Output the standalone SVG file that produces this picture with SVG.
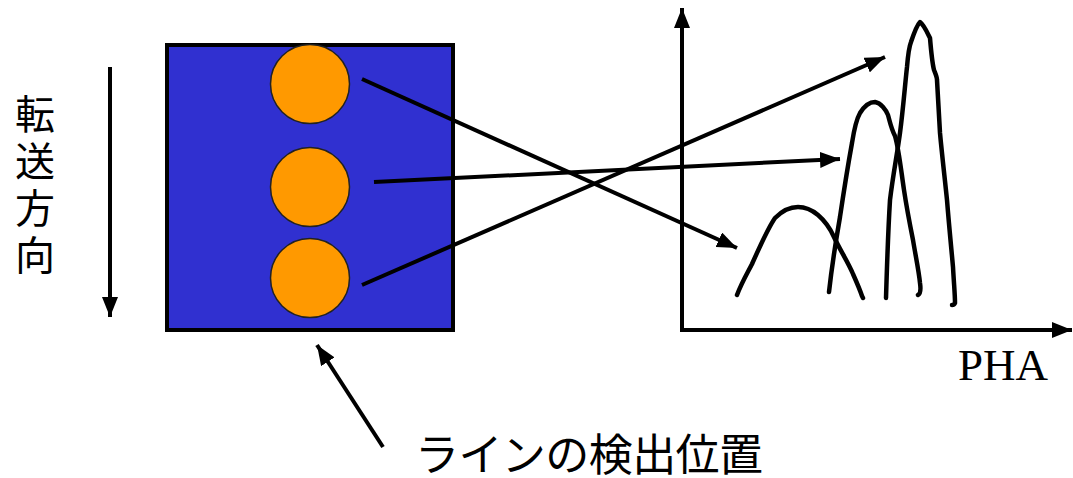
<svg xmlns="http://www.w3.org/2000/svg" width="1073" height="478" viewBox="0 0 1073 478">
<style>
.ln{stroke:#000;stroke-width:4;fill:none;stroke-linecap:butt}
.pen{stroke:#000;stroke-width:4.5;fill:none;stroke-linejoin:round;stroke-linecap:round}
.jp{font-family:"Noto Sans CJK JP","Noto Sans",sans-serif;fill:#000}
.circ{fill:#ff9900;stroke:#222;stroke-width:1.5}
</style>
<defs>
<marker id="ah" markerUnits="userSpaceOnUse" markerWidth="22" markerHeight="16" refX="20" refY="8" orient="auto">
<path d="M0,0 L20,8 L0,16 Z" fill="#000"/>
</marker>
</defs>
<rect width="1073" height="478" fill="#fff"/>
<g id="direction">
<line class="ln" x1="110" y1="67" x2="110" y2="317" marker-end="url(#ah)"/>
<text class="jp" font-size="40" x="35" y="94" writing-mode="tb" letter-spacing="7">転送方向</text>
</g>
<g id="detector">
<rect x="167" y="45" width="286" height="285" fill="#3030d0" stroke="#000" stroke-width="4"/>
<circle class="circ" cx="310" cy="84" r="39.5"/>
<circle class="circ" cx="310" cy="187" r="39.5"/>
<circle class="circ" cx="310" cy="278" r="39.5"/>
</g>
<g id="graph">
<line class="ln" x1="682" y1="330" x2="682" y2="8" marker-end="url(#ah)"/>
<line class="ln" x1="680" y1="330" x2="1072" y2="330" marker-end="url(#ah)"/>
<path class="pen" d="M737,295 C742,282 748,272 752,264 C760,246 768,228 775,218 C783,210 790,207 798,207 C806,207 812,210 818,215 C825,221 830,228 834,237 C840,250 848,262 853,274 C857,283 860,290 862,296 L863,298"/>
<path class="pen" d="M829,292 C832,265 836,240 840,217 C844,190 848,165 852,143 C854,130 856,120 860,113 C865,105 870,102 875,102 C881,103 886,110 888,115 C890,122 891,128 895,136 C899,150 901,170 904,190 C907,210 910,225 913,240 C916,258 919,272 920,283 C921,290 920,294 918,295"/>
<path class="pen" d="M886,298 C887,265 888,232 890,200 C893,175 897,155 900,133 C903,110 905,85 907,67 C908,55 909,47 911,42 C914,33 917,25 920,22 C924,25 927,32 930,38 C931,50 932,62 934,70 C936,75 937,77 937,80 C938,100 939,118 940,133 C942,155 945,180 947,200 C949,225 951,245 953,267 C954,285 955,295 955,303 C954,305 953,305 952,305"/>
<text x="958" y="380" font-family="Liberation Serif,serif" font-size="45" fill="#000">PHA</text>
</g>
<g id="connectors">
<line class="ln" x1="362" y1="79" x2="737" y2="248" marker-end="url(#ah)"/>
<line class="ln" x1="374" y1="182" x2="840" y2="159" marker-end="url(#ah)"/>
<line class="ln" x1="362" y1="285" x2="885" y2="57" marker-end="url(#ah)"/>
<line class="ln" x1="383" y1="447" x2="317" y2="345" marker-end="url(#ah)"/>
</g>
<g id="label">
<text class="jp" x="415" y="471" font-size="44" textLength="348" lengthAdjust="spacing">ラインの検出位置</text>
</g>
</svg>
